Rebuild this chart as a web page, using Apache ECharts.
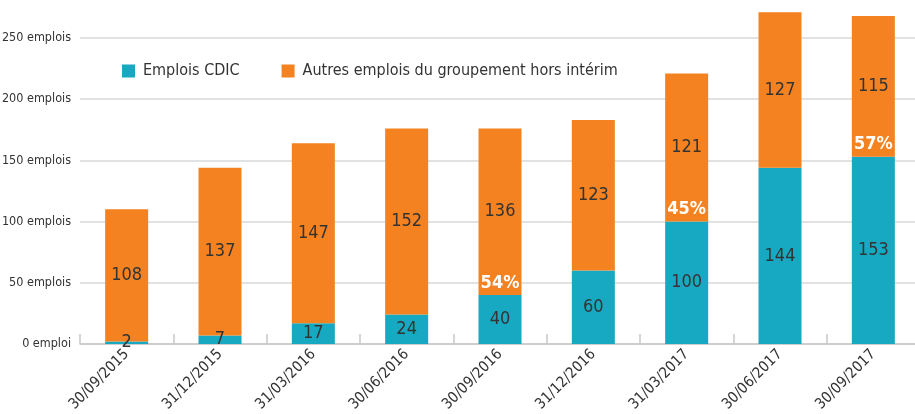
<!DOCTYPE html>
<html><head><meta charset="utf-8">
<script src="https://cdn.jsdelivr.net/npm/echarts@6/dist/echarts.min.js"></script>
<style>html,body{margin:0;padding:0;background:#fff}#c{width:915px;height:414px}</style>
</head><body><div id="c"></div>
<script>
const categories = ['30/09/2015','31/12/2015','31/03/2016','30/06/2016','30/09/2016','31/12/2016','31/03/2017','30/06/2017','30/09/2017'];
const cdic = [2,7,17,24,40,60,100,144,153];
const autres = [108,137,147,152,136,123,121,127,115];
const pct = [null,null,null,null,'54%',null,'45%',null,'57%'];
const yTicks = [0,50,100,150,200,250];
const FONT = '"DejaVu Sans Condensed","Liberation Sans Narrow",sans-serif';
const chart = echarts.init(document.getElementById('c'));
chart.setOption({
  animation:false,
  textStyle:{fontFamily:FONT},
  legend:{
    left:117, top:58, itemWidth:13, itemHeight:13, itemGap:42,
    icon:'rect',
    textStyle:{fontFamily:FONT,fontSize:16,color:'#333',padding:[0,0,0,3]},
    data:['Emplois CDIC','Autres emplois du groupement hors intérim']
  },
  grid:{left:80, top:38, width:840, bottom:70, containLabel:false, outerBoundsMode:'none'},
  xAxis:{
    type:'category', data:categories,
    axisLine:{lineStyle:{color:'#c8c8c8',width:1.5}},
    axisTick:{show:true,inside:true,length:10,lineStyle:{color:'#c8c8c8',width:1.5}},
    axisLabel:{rotate:45,fontFamily:FONT,fontSize:15,color:'#333',margin:8,interval:0}
  },
  yAxis:{
    type:'value', min:0, max:250, interval:50,
    axisLabel:{fontFamily:FONT,fontSize:12.5,color:'#333',margin:9,
      formatter:v=>yTicks.indexOf(v)===0?'0 emploi':v+' emplois'},
    splitLine:{lineStyle:{color:'#d9d9d9',width:1.5}},
    axisLine:{show:false}, axisTick:{show:false}
  },
  series:[
    {name:'Emplois CDIC',type:'bar',stack:'t',data:cdic,barWidth:43,clip:false,
     itemStyle:{color:'#17a9c2'},
     label:{show:true,position:'inside',fontFamily:FONT,fontSize:18,color:'#333'}},
    {name:'Autres emplois du groupement hors intérim',type:'bar',stack:'t',data:autres,barWidth:43,clip:false,
     itemStyle:{color:'#f58220'},
     label:{show:true,position:'inside',fontFamily:FONT,fontSize:18,color:'#333'}},
    {name:'pct',type:'bar',data:cdic,barWidth:43,barGap:'-100%',clip:false,
     itemStyle:{color:'rgba(0,0,0,0)'},silent:true,
     label:{show:true,position:'top',distance:3,fontFamily:FONT,fontSize:18,fontWeight:'bold',color:'#fff',
       formatter:p=>pct[p.dataIndex]||''}}
  ]
});
</script></body></html>
